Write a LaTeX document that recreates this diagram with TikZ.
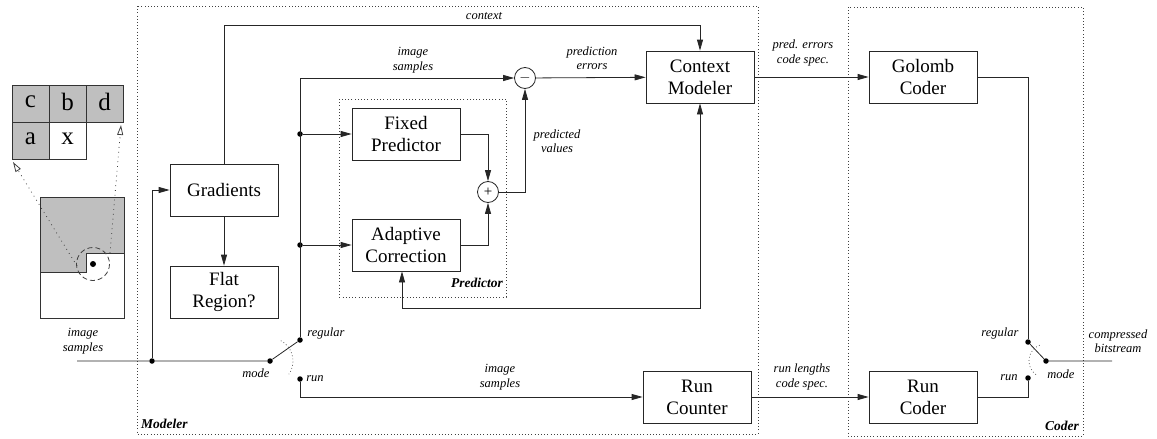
\documentclass[tikz,border=0pt]{standalone}
\usepackage{fontspec}
\setmainfont{Liberation Serif}
\usetikzlibrary{arrows.meta, positioning, calc}
\tikzset{
  blk/.style={
    rectangle, draw=black!85, line width=0.8pt,
    minimum width=108pt, minimum height=52pt,
    align=center, inner sep=2pt,
    font=\fontsize{19}{22}\selectfont
  },
  lbl/.style={align=center, inner sep=1pt, font=\fontsize{12.5}{14.5}\selectfont\itshape},
  glbl/.style={inner sep=0pt, font=\fontsize{13.5}{16}\selectfont\bfseries\itshape},
  grp/.style={draw=black!75, line width=0.7pt, dash pattern=on 0.8pt off 2.4pt},
  dot/.style={circle, fill=black, inner sep=0pt, minimum size=5.5pt},
  sum/.style={circle, draw=black!85, line width=0.8pt, inner sep=0pt,
    minimum size=21pt, font=\fontsize{15}{15}\selectfont},
  wire/.style={draw=black!85, line width=0.8pt},
  arr/.style={wire, -{Triangle[length=11pt,width=6pt]}},
  darr/.style={wire, {Triangle[length=11pt,width=6pt]}-{Triangle[length=11pt,width=6pt]}},
  peek/.style={draw=black!75, line width=0.8pt, dash pattern=on 0.8pt off 4pt,
    -{Triangle[open,length=10pt,width=6pt]}},
  cell/.style={draw=black!80, line width=0.8pt}
}

\begin{document}
\begin{tikzpicture}[x=1pt, y=-1pt]
  \useasboundingbox (0,0) rectangle (1157,439);

  % groups
  \draw[grp] (137,6) rectangle (758,434);
  \draw[grp] (339,99) rectangle (506,297);
  \draw[grp] (848,7) rectangle (1083,436);
  \node[glbl, anchor=base west] (modlbl)  at (141,428)  {Modeler};
  \node[glbl, anchor=base east] (predlbl) at (503,287)  {Predictor};
  \node[glbl, anchor=base east] (codlbl)  at (1079,430) {Coder};

  % causal template
  \foreach \x/\y/\t/\f in {12/85/c/gray!50, 49/85/b/gray!50, 86/85/d/gray!50,
                          12/122/a/gray!50, 49/122/x/white} {
    \filldraw[cell, fill=\f] (\x,\y) rectangle ++(37,37);
    \node[font=\fontsize{25}{25}\selectfont] (cell\t) at (\x+18.5,\y+17) {\t};
  }

  % image with scanned part
  \fill[gray!50] (40,197) -- (124,197) -- (124,253) -- (86,253) -- (86,272) -- (40,272) -- cycle;
  \draw[cell] (40,197) rectangle (124,318);
  \draw[cell] (40,272) -- (86,272) -- (86,253) -- (124,253);
  \node[dot, minimum size=6pt] (pix) at (93,264) {};
  \draw[black!75, line width=0.8pt, dash pattern=on 5pt off 3pt] (pix) circle (16.5);
  \coordinate (pl) at (77,266);
  \coordinate (pr) at (110,253);
  \coordinate (tl) at (13,162);
  \coordinate (tr) at (121,125);
  \draw[peek] (pl) -- (tl);
  \draw[peek] (pr) -- (tr);

  % blocks
  \node[blk] (grad)   at (224,190) {Gradients};
  \node[blk] (flat)   at (224,292) {Flat\\Region?};
  \node[blk] (fixed)  at (406,134) {Fixed\\Predictor};
  \node[blk] (adapt)  at (406,245) {Adaptive\\Correction};
  \node[blk] (ctx)    at (700,77)  {Context\\Modeler};
  \node[blk] (runc)   at (697,397) {Run\\Counter};
  \node[blk] (golomb) at (923,77)  {Golomb\\Coder};
  \node[blk] (runcod) at (923,397) {Run\\Coder};

  \node[sum] (minus) at (525,78)  {$-$};
  \node[sum] (plus)  at (488,192) {+};

  % switches and junctions
  \coordinate (in)  at (77,361);
  \coordinate (out) at (1112,361);
  \coordinate (ctxtop) at (224,25);
  \coordinate (fb) at (700,308);
  \node[dot] (j1)    at (152,361)  {};
  \node[dot] (modeL) at (270,361)  {};
  \node[dot] (regL)  at (300,340)  {};
  \node[dot] (runL)  at (300,379)  {};
  \node[dot] (j2)    at (300,134)  {};
  \node[dot] (j3)    at (300,245)  {};
  \node[dot] (regR)  at (1028,342) {};
  \node[dot] (runR)  at (1028,378) {};
  \node[dot] (modeR) at (1046,361) {};
  \draw[grp, draw=black!70] (modeL) ++(-62:23) arc[start angle=-62, end angle=35, radius=23];
  \draw[grp, draw=black!70] (modeR) ++(-112:17) arc[start angle=-112, end angle=-235, radius=17];

  % modeler wiring
  \draw[wire] (in) -- (j1) -- (modeL) -- (regL);
  \draw[arr] (j1) |- (grad.west);
  \draw[arr] (grad.north) -- (ctxtop) -| (ctx.north);
  \draw[arr] (grad) -- (flat);
  \draw[arr] (regL) |- (minus.west);
  \draw[arr] (j2) -- (fixed.west);
  \draw[arr] (j3) -- (adapt.west);
  \draw[arr] (fixed.east) -| (plus.north);
  \draw[arr] (adapt.east) -| (plus.south);
  \draw[arr] (plus.east) -| (minus.south);
  \draw[arr] (minus) -- (ctx);
  \draw[darr] ([xshift=-4pt]adapt.south) |- (fb) -- (ctx.south);
  \draw[arr] (runL) |- (runc.west);

  % coder wiring
  \draw[arr] (ctx) -- (golomb);
  \draw[arr] (runc) -- (runcod);
  \draw[wire] (golomb.east) -| (regR);
  \draw[wire] (runcod.east) -| (runR);
  \draw[wire] (regR) -- (modeR) -- (out);

  % signal labels
  \node[lbl] (l1)  at (83,341)   {image\\samples};
  \node[lbl] (l2)  at (484,16)   {context};
  \node[lbl] (l3)  at (413,60)   {image\\samples};
  \node[lbl] (l4)  at (592,58)   {prediction\\errors};
  \node[lbl] (l5)  at (557,141)  {predicted\\values};
  \node[lbl] (l6)  at (803,53)   {pred. errors\\code spec.};
  \node[lbl] (l7)  at (326,333)  {regular};
  \node[lbl] (l8)  at (256,373)  {mode};
  \node[lbl] (l9)  at (315,379)  {run};
  \node[lbl] (l10) at (500,377)  {image\\samples};
  \node[lbl] (l11) at (802,377)  {run lengths\\code spec.};
  \node[lbl] (l12) at (1000,333) {regular};
  \node[lbl] (l13) at (1009,378) {run};
  \node[lbl] (l14) at (1061,374) {mode};
  \node[lbl] (l15) at (1118,341) {compressed\\bitstream};
\end{tikzpicture}
\end{document}
